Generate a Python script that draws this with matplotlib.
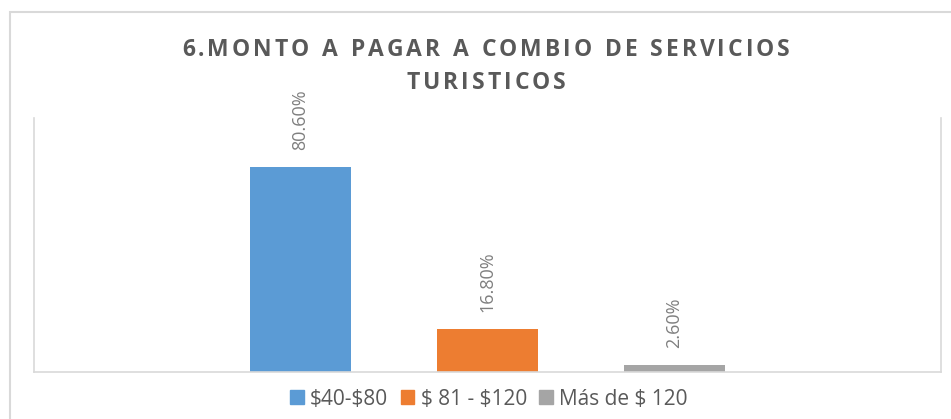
import matplotlib.pyplot as plt
from matplotlib.patches import Rectangle

plt.rcParams["text.parse_math"] = False

# ===== DATA =====
series_names = ["$40-$80", "$ 81 - $120", "Más de $ 120"]
values = [80.6, 16.8, 2.6]
value_labels = ["80.60%", "16.80%", "2.60%"]
title_lines = ["6.MONTO A PAGAR A COMBIO DE SERVICIOS", "TURISTICOS"]

colors = ["#5B9BD5", "#ED7D31", "#A5A5A5"]
text_gray = "#595959"
label_gray = "#7F7F7F"
line_gray = "#D9D9D9"

W, H = 951, 419
fig = plt.figure(figsize=(W / 100, H / 100), dpi=100)

left, right, top, bottom = 34, 941, 118, 372
ax = fig.add_axes([left / W, 1 - bottom / H, (right - left) / W, (bottom - top) / H])

x = list(range(len(values)))
ax.bar(x, values, width=0.535, color=colors, zorder=2)

# one category, bars spaced ~187 px apart, centred in plot area
half = ((right - left) / 2) / 187
ax.set_xlim(1 - half, 1 + half)
ax.set_ylim(0, 100)

for xi, v, lab in zip(x, values, value_labels):
    ax.annotate(lab, (xi, v), xytext=(0, 17), textcoords="offset pixels",
                rotation=90, ha="center", va="bottom", fontsize=13,
                color=label_gray, family="Open Sans")

ax.set_xticks([])
ax.set_yticks([])
ax.spines["top"].set_visible(False)
for s in ["left", "right", "bottom"]:
    ax.spines[s].set_color(line_gray)
    ax.spines[s].set_linewidth(1.2)

# chart border (only top and left are visible in the crop)
fig.patches.append(Rectangle((10 / W, -0.2), 1.2, (H - 12) / H + 0.2,
                             transform=fig.transFigure, fill=False,
                             edgecolor=line_gray, linewidth=1.5))

# ===== TITLE with letter spacing =====
renderer = fig.canvas.get_renderer()


def spaced_text(s, cx, cy, spacing=3.0, **kw):
    widths = []
    for ch in s:
        t = fig.text(0, 0, ch if ch != " " else "n", **kw)
        bb = t.get_window_extent(renderer)
        widths.append(bb.width * (0.45 if ch == " " else 1.0))
        t.remove()
    total = sum(widths) + spacing * (len(s) - 1)
    xpos = cx - total / 2
    for ch, w in zip(s, widths):
        if ch != " ":
            fig.text(xpos / W, 1 - cy / H, ch, ha="left", va="center", **kw)
        xpos += w + spacing


title_kw = dict(fontsize=16.5, fontweight="bold", color=text_gray, family="Open Sans")
spaced_text(title_lines[0], 486, 50, **title_kw)
spaced_text(title_lines[1], 486, 83, **title_kw)

# ===== LEGEND =====
handles = [Rectangle((0, 0), 1, 1, color=c) for c in colors]
fig.legend(handles, series_names, loc="center", bbox_to_anchor=(489 / W, 1 - 399 / H),
           ncol=3, frameon=False, handlelength=0.65, handleheight=0.65,
           handletextpad=0.3, columnspacing=0.6, labelcolor=text_gray,
           prop={"family": "Open Sans", "size": 15})

fig.savefig("out.png", dpi=100, facecolor="white")
